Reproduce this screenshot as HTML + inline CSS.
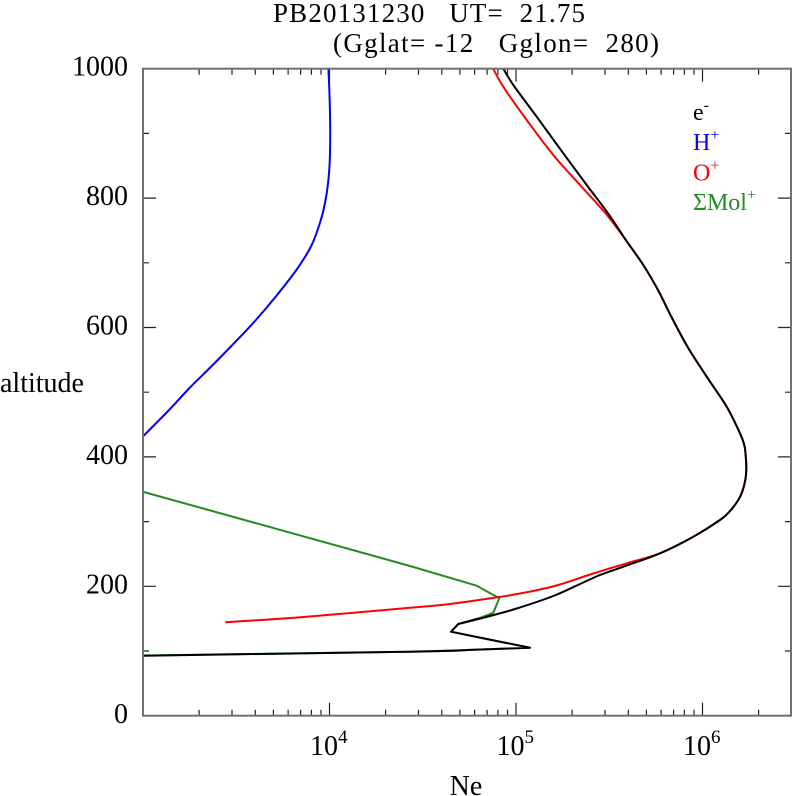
<!DOCTYPE html>
<html>
<head>
<meta charset="utf-8">
<style>
  html,body{margin:0;padding:0;background:#fff;}
  svg{display:block;}
  text{font-family:"Liberation Serif","DejaVu Serif",serif;fill:#000;white-space:pre;}
</style>
</head>
<body>
<svg id="chart" width="792" height="796" viewBox="0 0 792 796" xmlns="http://www.w3.org/2000/svg">
  <defs>
    <clipPath id="pc"><rect x="143" y="68.7" width="648" height="647"/></clipPath>
  </defs>

  <!-- Title -->
  <text x="273" y="22" font-size="27" textLength="312" xml:space="preserve">PB20131230   UT=  21.75</text>
  <text x="333" y="52" font-size="27" textLength="326" xml:space="preserve">(Gglat= -12   Gglon=  280)</text>

  <!-- Curves -->
  <g id="curves" clip-path="url(#pc)" fill="none" stroke-width="2" stroke-linejoin="round" stroke-linecap="round">
    <!-- H+ -->
    <polyline id="cH" stroke="#0000ff" points="142.7,436.7 153.3,426 170,409 190,387.5 211.7,366 233.3,344 255,321 275,297.5 296.7,269.5 311.7,245 320.5,221 325,203 328.2,182 329.8,160 330.2,128 329.5,95 328.3,66"/>
    <!-- Mol+ -->
    <polyline id="cM" stroke="#228b22" points="142.7,491.7 410,566 476.7,585.7 499.3,598.3 493.3,612.7 481.7,617.3 458.3,624 451,631.7 486.7,639 530,647.7 466.7,650 410,651.7 142.7,655.5"/>
    <!-- O+ -->
    <polyline id="cO" stroke="#ff0000" points="491.7,66 503.3,86.7 526.7,120 553.3,155 580,185 606.5,214.5 627,241.7 643.3,265 658,290 672,318 687.5,346.7 706.7,376.7 726.7,406.7 740,433.3 744.5,446 746,460 746.3,470 745.3,480 742.5,491 738.3,500 730,511 720,520 693.3,536.7 660,553.3 626.7,563.3 593.3,573.5 560,584.5 540,589.5 520,593.5 499.3,597 450,604 410,607.8 306.7,616.7 226,622.3"/>
    <!-- e- -->
    <polyline id="cE" stroke="#000000" points="501.7,66 513.3,85 536.7,116.7 563.3,153.3 586.7,185 608,213.3 627,241.7 643.3,265 658,290 672,318 687.5,346.7 706.7,376.7 726.7,406.7 740,433.3 744.5,446 746,460 746.3,470 745.3,480 742.5,491 738.3,500 730,511 720,520 693.3,536.7 660,553.3 626.7,565.5 600,575 580,584 553.3,596 516.7,608.5 490,616 458.3,624 451,631.7 486.7,639 530,647.7 466.7,650 410,651.7 142.7,655.7"/>
  </g>

  <!-- Ticks -->
  <g stroke="#222" stroke-width="1.2" fill="none">
    <path d="M199.1,715.7v-6 M232,715.7v-6 M255.3,715.7v-6 M273.4,715.7v-6 M288.1,715.7v-6 M300.6,715.7v-6 M311.4,715.7v-6 M321,715.7v-6
             M385.6,715.7v-6 M418.5,715.7v-6 M441.8,715.7v-6 M459.9,715.7v-6 M474.6,715.7v-6 M487.1,715.7v-6 M497.9,715.7v-6 M507.5,715.7v-6
             M572.1,715.7v-6 M605,715.7v-6 M628.3,715.7v-6 M646.4,715.7v-6 M661.1,715.7v-6 M673.6,715.7v-6 M684.4,715.7v-6 M694,715.7v-6
             M758.6,715.7v-6"/>
    <path d="M329.5,715.7v-13 M516,715.7v-13 M702.5,715.7v-13"/>
    <path d="M199.1,68.7v6 M232,68.7v6 M255.3,68.7v6 M273.4,68.7v6 M288.1,68.7v6 M300.6,68.7v6 M311.4,68.7v6 M321,68.7v6
             M385.6,68.7v6 M418.5,68.7v6 M441.8,68.7v6 M459.9,68.7v6 M474.6,68.7v6 M487.1,68.7v6 M497.9,68.7v6 M507.5,68.7v6
             M572.1,68.7v6 M605,68.7v6 M628.3,68.7v6 M646.4,68.7v6 M661.1,68.7v6 M673.6,68.7v6 M684.4,68.7v6 M694,68.7v6
             M758.6,68.7v6"/>
    <path d="M329.5,68.7v13 M516,68.7v13 M702.5,68.7v13"/>
    <path d="M143,586.3h13 M143,456.9h13 M143,327.5h13 M143,198.1h13
             M143,651h6 M143,521.6h6 M143,392.2h6 M143,262.8h6 M143,133.4h6"/>
    <path d="M791,586.3h-13 M791,456.9h-13 M791,327.5h-13 M791,198.1h-13
             M791,651h-6 M791,521.6h-6 M791,392.2h-6 M791,262.8h-6 M791,133.4h-6"/>
  </g>

  <!-- Axes frame -->
  <rect x="143" y="68.7" width="648" height="647" fill="none" stroke="#707070" stroke-width="2"/>

  <!-- Y tick labels -->
  <g font-size="28" text-anchor="end">
    <text x="128" y="75.5">1000</text>
    <text x="128" y="205">800</text>
    <text x="128" y="334.5">600</text>
    <text x="128" y="464">400</text>
    <text x="128" y="593.5">200</text>
    <text x="128" y="723">0</text>
  </g>

  <!-- X tick labels -->
  <g font-size="28">
    <text x="310" y="755">10<tspan font-size="19" dy="-12">4</tspan></text>
    <text x="496.5" y="755">10<tspan font-size="19" dy="-12">5</tspan></text>
    <text x="683" y="755">10<tspan font-size="19" dy="-12">6</tspan></text>
  </g>

  <!-- Axis labels -->
  <text x="0" y="392" font-size="28">altitude</text>
  <text x="466" y="795" font-size="28" text-anchor="middle">Ne</text>

  <!-- Legend -->
  <g font-size="24">
    <text x="693" y="120" style="fill:#000">e<tspan font-size="16" dy="-10">-</tspan></text>
    <text x="693" y="150" style="fill:#0000ff">H<tspan font-size="16" dy="-10">+</tspan></text>
    <text x="693" y="180.5" style="fill:#ff0000">O<tspan font-size="16" dy="-10">+</tspan></text>
    <text x="693" y="210" style="fill:#228b22">ΣMol<tspan font-size="16" dy="-10">+</tspan></text>
  </g>
</svg>
<script>
(function(){
  var NS="http://www.w3.org/2000/svg";
  function smooth(id, cornerList){
    var pl=document.getElementById(id);
    if(!pl) return;
    var raw=pl.getAttribute("points").trim().split(/\s+/).map(function(s){var a=s.split(",");return [parseFloat(a[0]),parseFloat(a[1])];});
    var corners={};
    (cornerList||[]).forEach(function(c){
      for(var i=0;i<raw.length;i++){ if(Math.abs(raw[i][0]-c[0])<0.01&&Math.abs(raw[i][1]-c[1])<0.01) corners[i]=1; }
    });
    var n=raw.length;
    function tan(i){
      if(corners[i]) return [0,0];
      if(i===0) return [(raw[1][0]-raw[0][0])/3,(raw[1][1]-raw[0][1])/3];
      if(i===n-1) return [(raw[n-1][0]-raw[n-2][0])/3,(raw[n-1][1]-raw[n-2][1])/3];
      return [(raw[i+1][0]-raw[i-1][0])/6,(raw[i+1][1]-raw[i-1][1])/6];
    }
    var d="M"+raw[0][0]+","+raw[0][1];
    for(var i=0;i<n-1;i++){
      var t0=tan(i), t1=tan(i+1);
      var c1=[raw[i][0]+t0[0],raw[i][1]+t0[1]];
      var c2=[raw[i+1][0]-t1[0],raw[i+1][1]-t1[1]];
      d+=" C"+c1[0].toFixed(2)+","+c1[1].toFixed(2)+" "+c2[0].toFixed(2)+","+c2[1].toFixed(2)+" "+raw[i+1][0]+","+raw[i+1][1];
    }
    var p=document.createElementNS(NS,"path");
    p.setAttribute("d",d);
    p.setAttribute("stroke",pl.getAttribute("stroke"));
    pl.parentNode.replaceChild(p,pl);
  }
  try{
    smooth("cH",[]);
    smooth("cO",[]);
    smooth("cE",[[458.3,624],[451,631.7],[530,647.7],[466.7,650]]);
  }catch(e){}
})();
</script>
</body>
</html>
